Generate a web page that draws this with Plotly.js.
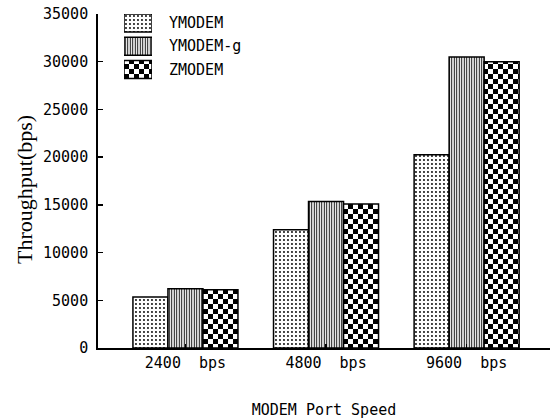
<!DOCTYPE html>
<html>
<head>
<meta charset="utf-8">
<script src="https://cdn.plot.ly/plotly-3.0.1.min.js"></script>
<style>
  html, body { margin: 0; padding: 0; background: #fff; }
  #chart { width: 550px; height: 419px; }
</style>
</head>
<body>
<div id="chart"></div>
<script>
// Port speeds on the x axis
const speeds = ["2400\u00a0\u00a0bps", "4800\u00a0\u00a0bps", "9600\u00a0\u00a0bps"];
// Protocol names (one bar series each)
const protocols = ["YMODEM", "YMODEM-g", "ZMODEM"];
// Measured throughput in bps per protocol
const ymodem  = [5350, 12400, 20250];
const ymodemG = [6220, 15350, 30500];
const zmodem  = [6110, 15100, 29990];
const yTicks = [0, 5000, 10000, 15000, 20000, 25000, 30000, 35000];

const seriesValues = [ymodem, ymodemG, zmodem];

// Fill textures: fine dots, vertical hatching, checkerboard (patched below)
const CHECKER_TAG = '#010203';
const patterns = [
  { shape: '.', size: 4, solidity: 0.18, fgcolor: '#000000', bgcolor: '#ffffff' },
  { shape: '|', size: 2.5, solidity: 0.4, fgcolor: '#000000', bgcolor: '#ffffff' },
  { shape: 'x', size: 10, solidity: 0.5, fgcolor: CHECKER_TAG, bgcolor: '#ffffff' }
];

const mono = 'DejaVu Sans Mono, monospace';

const traces = protocols.map((name, i) => ({
  type: 'bar',
  name: name,
  x: speeds,
  y: seriesValues[i],
  marker: {
    color: '#ffffff',
    line: { color: '#000000', width: 1.5 },
    pattern: patterns[i]
  },
  showlegend: false,
  hoverinfo: 'skip'
}));

// Legend swatches as small horizontal bars on their own axes
traces.push({
  type: 'bar',
  orientation: 'h',
  x: protocols.map(() => 1),
  y: protocols,
  xaxis: 'x2',
  yaxis: 'y2',
  width: 0.78,
  marker: {
    color: '#ffffff',
    line: { color: '#000000', width: 1.5 },
    pattern: {
      shape: patterns.map(p => p.shape),
      size: patterns.map(p => p.size),
      solidity: patterns.map(p => p.solidity),
      fgcolor: patterns.map(p => p.fgcolor),
      bgcolor: patterns.map(p => p.bgcolor)
    }
  },
  showlegend: false,
  hoverinfo: 'skip'
});

const legendText = protocols.map(name => ({
  text: name,
  xref: 'paper', x: (167 - 98) / 452, xanchor: 'left',
  yref: 'y2', y: name, yanchor: 'middle',
  showarrow: false,
  font: { family: mono, size: 15, color: '#000' }
}));

// Vertical y-axis caption
const yCaption = {
  text: 'Throughput(bps)',
  textangle: -90,
  xref: 'paper', x: (25 - 98) / 452, xanchor: 'center',
  yref: 'paper', y: (348 - 190) / 334, yanchor: 'middle',
  showarrow: false,
  font: { family: 'Liberation Serif, serif', size: 22, color: '#000' }
};

const layout = {
  width: 550,
  height: 419,
  margin: { l: 98, r: 0, t: 14, b: 71, pad: 0 },
  paper_bgcolor: '#ffffff',
  plot_bgcolor: '#ffffff',
  barmode: 'group',
  bargap: 0.253,
  bargroupgap: 0,
  showlegend: false,
  font: { family: mono, size: 15, color: '#000' },
  xaxis: {
    type: 'category',
    range: [-0.622, 2.593],
    showline: true,
    linecolor: '#000',
    linewidth: 1.5,
    showgrid: false,
    zeroline: false,
    ticks: 'inside',
    ticklen: 4,
    tickwidth: 1.5,
    tickcolor: '#000',
    tickfont: { family: mono, size: 15, color: '#000' },
    title: { text: 'MODEM Port Speed', font: { family: mono, size: 15, color: '#000' }, standoff: 40 },
    automargin: false
  },
  yaxis: {
    range: [0, 35000],
    tickvals: yTicks,
    ticktext: yTicks.map(String),
    showline: true,
    linecolor: '#000',
    linewidth: 1.8,
    showgrid: false,
    zeroline: false,
    ticks: 'inside',
    ticklen: 5,
    tickwidth: 1.5,
    tickcolor: '#000',
    ticklabelstandoff: 5,
    tickfont: { family: mono, size: 15, color: '#000' },
    automargin: false
  },
  xaxis2: {
    domain: [(124 - 98) / 452, (152 - 98) / 452],
    range: [0, 1],
    anchor: 'y2',
    visible: false,
    fixedrange: true
  },
  yaxis2: {
    domain: [(348 - 93) / 334, 1],
    type: 'category',
    range: [3.011, -0.387],
    anchor: 'x2',
    visible: false,
    fixedrange: true
  },
  annotations: legendText.concat([yCaption])
};

// Turn the tagged texture into a 5px black/white checkerboard
function applyChecker(gd) {
  const NS = 'http://www.w3.org/2000/svg';
  gd.querySelectorAll('pattern').forEach(pat => {
    const html = pat.outerHTML.toLowerCase();
    if (html.indexOf('010203') === -1 && html.indexOf('1, 2, 3') === -1) return;
    while (pat.firstChild) pat.removeChild(pat.firstChild);
    pat.removeAttribute('patternTransform');
    pat.setAttribute('width', 10);
    pat.setAttribute('height', 10);
    const cells = [[0, 0, 10, 10, '#ffffff'], [0, 0, 5, 5, '#000000'], [5, 5, 5, 5, '#000000']];
    cells.forEach(c => {
      const r = document.createElementNS(NS, 'rect');
      r.setAttribute('x', c[0]); r.setAttribute('y', c[1]);
      r.setAttribute('width', c[2]); r.setAttribute('height', c[3]);
      r.setAttribute('fill', c[4]);
      pat.appendChild(r);
    });
  });
}

const gd = document.getElementById('chart');
Plotly.newPlot(gd, traces, layout, { staticPlot: true, displayModeBar: false }).then(() => {
  applyChecker(gd);
  gd.on('plotly_afterplot', () => applyChecker(gd));
});
</script>
</body>
</html>
